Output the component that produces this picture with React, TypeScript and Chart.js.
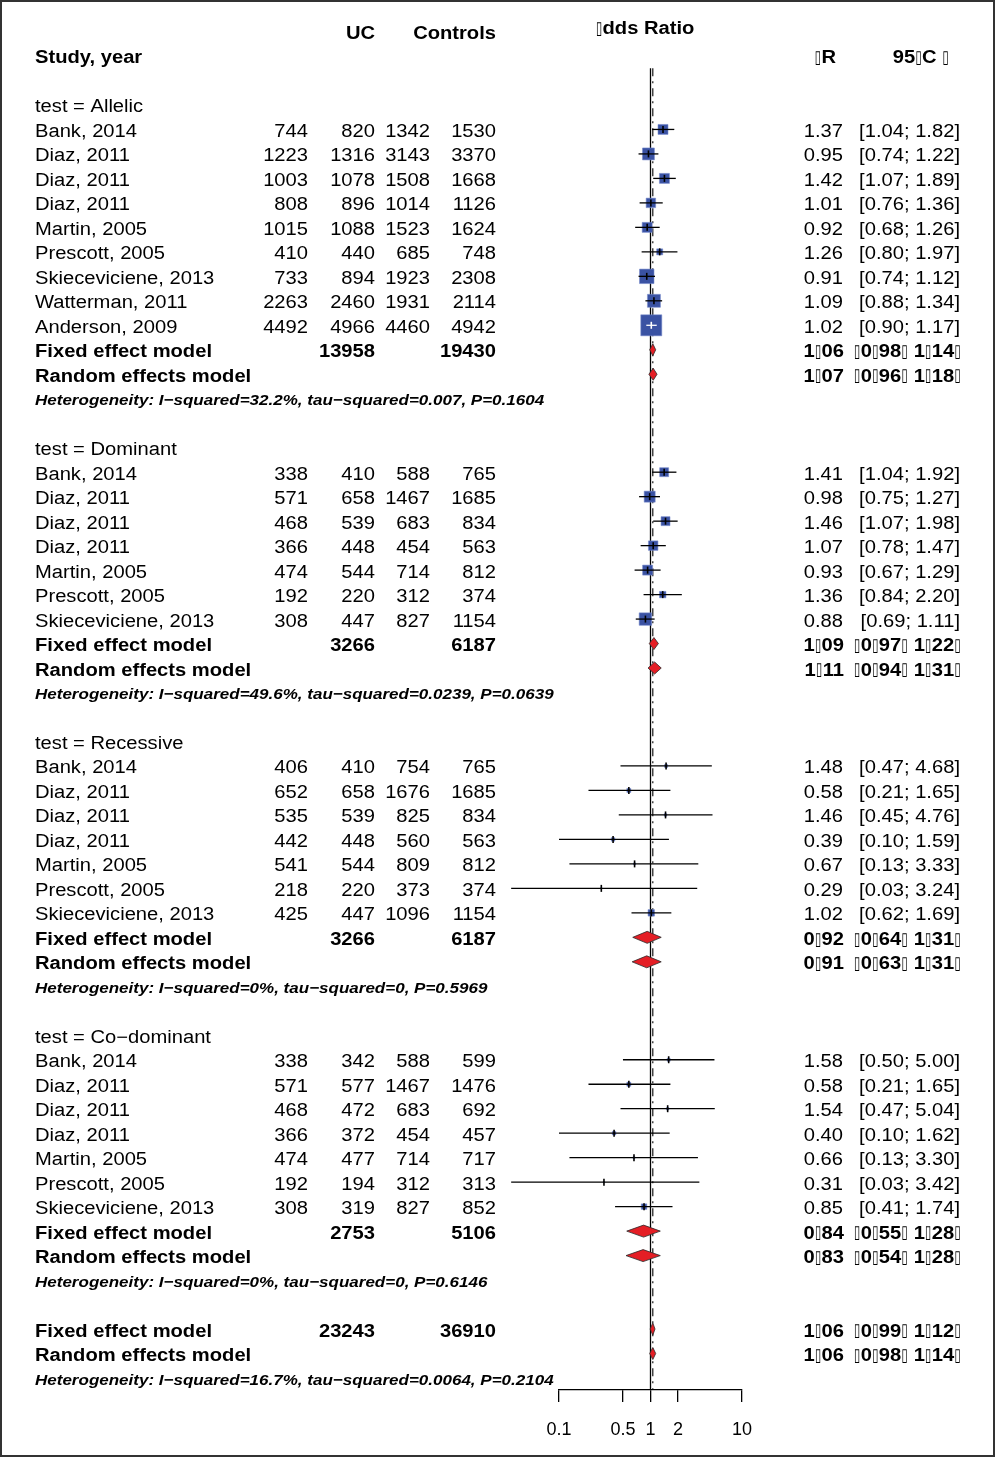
import React, { useEffect, useRef } from "react";
import { Chart, registerables } from "chart.js";

Chart.register(...registerables);

// ---------------- data ----------------
const groups = ["Allelic", "Dominant", "Recessive", "Co\u2212dominant"];

const studyNames = [
  ["Bank, 2014", "Diaz, 2011", "Diaz, 2011", "Diaz, 2011", "Martin, 2005", "Prescott, 2005", "Skieceviciene, 2013", "Watterman, 2011", "Anderson, 2009"],
  ["Bank, 2014", "Diaz, 2011", "Diaz, 2011", "Diaz, 2011", "Martin, 2005", "Prescott, 2005", "Skieceviciene, 2013"],
  ["Bank, 2014", "Diaz, 2011", "Diaz, 2011", "Diaz, 2011", "Martin, 2005", "Prescott, 2005", "Skieceviciene, 2013"],
  ["Bank, 2014", "Diaz, 2011", "Diaz, 2011", "Diaz, 2011", "Martin, 2005", "Prescott, 2005", "Skieceviciene, 2013"],
];

const ucEvents = [
  [744, 1223, 1003, 808, 1015, 410, 733, 2263, 4492],
  [338, 571, 468, 366, 474, 192, 308],
  [406, 652, 535, 442, 541, 218, 425],
  [338, 571, 468, 366, 474, 192, 308],
];
const ucTotal = [
  [820, 1316, 1078, 896, 1088, 440, 894, 2460, 4966],
  [410, 658, 539, 448, 544, 220, 447],
  [410, 658, 539, 448, 544, 220, 447],
  [342, 577, 472, 372, 477, 194, 319],
];
const ctrlEvents = [
  [1342, 3143, 1508, 1014, 1523, 685, 1923, 1931, 4460],
  [588, 1467, 683, 454, 714, 312, 827],
  [754, 1676, 825, 560, 809, 373, 1096],
  [588, 1467, 683, 454, 714, 312, 827],
];
const ctrlTotal = [
  [1530, 3370, 1668, 1126, 1624, 748, 2308, 2114, 4942],
  [765, 1685, 834, 563, 812, 374, 1154],
  [765, 1685, 834, 563, 812, 374, 1154],
  [599, 1476, 692, 457, 717, 313, 852],
];
const oddsRatio = [
  [1.37, 0.95, 1.42, 1.01, 0.92, 1.26, 0.91, 1.09, 1.02],
  [1.41, 0.98, 1.46, 1.07, 0.93, 1.36, 0.88],
  [1.48, 0.58, 1.46, 0.39, 0.67, 0.29, 1.02],
  [1.58, 0.58, 1.54, 0.4, 0.66, 0.31, 0.85],
];
const ciLower = [
  [1.04, 0.74, 1.07, 0.76, 0.68, 0.8, 0.74, 0.88, 0.9],
  [1.04, 0.75, 1.07, 0.78, 0.67, 0.84, 0.69],
  [0.47, 0.21, 0.45, 0.1, 0.13, 0.03, 0.62],
  [0.5, 0.21, 0.47, 0.1, 0.13, 0.03, 0.41],
];
const ciUpper = [
  [1.82, 1.22, 1.89, 1.36, 1.26, 1.97, 1.12, 1.34, 1.17],
  [1.92, 1.27, 1.98, 1.47, 1.29, 2.2, 1.11],
  [4.68, 1.65, 4.76, 1.59, 3.33, 3.24, 1.69],
  [5.0, 1.65, 5.04, 1.62, 3.3, 3.42, 1.74],
];
// relative study weights (%), estimated from the square sizes
const weights = [
  [7.2, 10.3, 7.2, 6.5, 7.2, 2.6, 15.1, 12.1, 31.7],
  [5.8, 8.7, 5.8, 6.5, 7.2, 3.0, 11.2],
  [0.65, 1.15, 0.45, 0.88, 0.29, 0.16, 3.0],
  [0.65, 1.15, 0.45, 0.88, 0.29, 0.16, 2.2],
];

const fixedOR = [1.06, 1.09, 0.92, 0.84];
const fixedLo = [0.98, 0.97, 0.64, 0.55];
const fixedHi = [1.14, 1.22, 1.31, 1.28];
const randomOR = [1.07, 1.11, 0.91, 0.83];
const randomLo = [0.96, 0.94, 0.63, 0.54];
const randomHi = [1.18, 1.31, 1.31, 1.28];
const groupTotalUC = [13958, 3266, 3266, 2753];
const groupTotalCtrl = [19430, 6187, 6187, 5106];
const hetI2 = ["32.2%", "49.6%", "0%", "0%"];
const hetTau2 = ["0.007", "0.0239", "0", "0"];
const hetP = ["0.1604", "0.0639", "0.5969", "0.6146"];

const overallFixed = [1.06, 0.99, 1.12];
const overallRandom = [1.06, 0.98, 1.14];
const overallTotals = [23243, 36910];
const overallHet = ["16.7%", "0.0064", "0.2104"];

const xTicks = [0.1, 0.5, 1, 2, 10];

// ---------------- layout / style ----------------
const W = 995;
const H = 1457;
const COL = { label: 35, ucE: 308, ucN: 375, cE: 430, cN: 496, or: 843, ci: 960 };
const FONT_MAIN = 18;
const FONT_HET = 15.2;
const SX = 1.12;
const TEXT_DY = 2.5;
const TOFU = "\u25AF";
const TOFU_ADV = 0.34; // em advance of a missing-glyph box
const SQUARE_K = 3.73; // px per sqrt(weight)
const DIAMOND_HALF = 0.245; // rows
const REF_TOP = 0.5;

type Align = "left" | "right" | "center";
type TextItem = { row: number; x: number; align: Align; text: string; bold?: boolean; italic?: boolean; size?: number };
type StudyRow = { row: number; or: number; lo: number; hi: number; w: number };
type Summary = { row: number; est: number; lo: number; hi: number };

const tofuize = (s: string) => s.replace(/[.\[\];]/g, TOFU);
const ciText = (lo: number, hi: number) => `[${lo.toFixed(2)}; ${hi.toFixed(2)}]`;

function buildRows() {
  const texts: TextItem[] = [];
  const studies: StudyRow[] = [];
  const summaries: Summary[] = [];
  texts.push({ row: -1.2, x: 645, align: "center", text: TOFU + "dds Ratio", bold: true });
  texts.push({ row: -1, x: COL.ucN, align: "right", text: "UC", bold: true });
  texts.push({ row: -1, x: COL.cN, align: "right", text: "Controls", bold: true });
  texts.push({ row: 0, x: COL.label, align: "left", text: "Study, year", bold: true });
  texts.push({ row: 0, x: 836, align: "right", text: TOFU + "R", bold: true });
  texts.push({ row: 0, x: 949, align: "right", text: "95" + TOFU + "C " + TOFU, bold: true });

  const summaryRow = (row: number, label: string, est: number, lo: number, hi: number, nU?: number, nC?: number) => {
    texts.push({ row, x: COL.label, align: "left", text: label, bold: true });
    if (nU !== undefined) texts.push({ row, x: COL.ucN, align: "right", text: String(nU), bold: true });
    if (nC !== undefined) texts.push({ row, x: COL.cN, align: "right", text: String(nC), bold: true });
    texts.push({ row, x: COL.or + 1, align: "right", text: tofuize(est.toFixed(2)), bold: true });
    texts.push({ row, x: COL.ci + 1, align: "right", text: tofuize(ciText(lo, hi)), bold: true });
    summaries.push({ row, est, lo, hi });
  };
  const hetRow = (row: number, i2: string, t2: string, p: string) => {
    texts.push({
      row, x: COL.label, align: "left", bold: true, italic: true, size: FONT_HET,
      text: `Heterogeneity: I\u2212squared=${i2}, tau\u2212squared=${t2}, P=${p}`,
    });
  };

  let row = 2;
  groups.forEach((g, gi) => {
    texts.push({ row, x: COL.label, align: "left", text: `test = ${g}` });
    row++;
    studyNames[gi].forEach((name, si) => {
      texts.push({ row, x: COL.label, align: "left", text: name });
      texts.push({ row, x: COL.ucE, align: "right", text: String(ucEvents[gi][si]) });
      texts.push({ row, x: COL.ucN, align: "right", text: String(ucTotal[gi][si]) });
      texts.push({ row, x: COL.cE, align: "right", text: String(ctrlEvents[gi][si]) });
      texts.push({ row, x: COL.cN, align: "right", text: String(ctrlTotal[gi][si]) });
      texts.push({ row, x: COL.or, align: "right", text: oddsRatio[gi][si].toFixed(2) });
      texts.push({ row, x: COL.ci, align: "right", text: ciText(ciLower[gi][si], ciUpper[gi][si]) });
      studies.push({ row, or: oddsRatio[gi][si], lo: ciLower[gi][si], hi: ciUpper[gi][si], w: weights[gi][si] });
      row++;
    });
    summaryRow(row, "Fixed effect model", fixedOR[gi], fixedLo[gi], fixedHi[gi], groupTotalUC[gi], groupTotalCtrl[gi]);
    row++;
    summaryRow(row, "Random effects model", randomOR[gi], randomLo[gi], randomHi[gi]);
    row++;
    hetRow(row, hetI2[gi], hetTau2[gi], hetP[gi]);
    row += 2;
  });
  summaryRow(row, "Fixed effect model", overallFixed[0], overallFixed[1], overallFixed[2], overallTotals[0], overallTotals[1]);
  row++;
  summaryRow(row, "Random effects model", overallRandom[0], overallRandom[1], overallRandom[2]);
  row++;
  hetRow(row, overallHet[0], overallHet[1], overallHet[2]);
  return { texts, studies, summaries, lastRow: row };
}

function drawItem(ctx: CanvasRenderingContext2D, t: TextItem, y: number) {
  const size = t.size ?? FONT_MAIN;
  const base = `${t.italic ? "italic " : ""}${t.bold ? "bold " : ""}${size}px "Liberation Sans", Arial, sans-serif`;
  const tofuFont = `${size}px "DejaVu Sans"`;
  const segs: { s: string; tofu: boolean }[] = [];
  for (const ch of t.text) {
    const isT = ch === TOFU;
    const last = segs[segs.length - 1];
    if (last && last.tofu === isT && !isT) last.s += ch;
    else segs.push({ s: ch, tofu: isT });
  }
  let total = 0;
  const tofuAdv = size * TOFU_ADV;
  const info = segs.map((sg) => {
    ctx.font = sg.tofu ? tofuFont : base;
    const m = ctx.measureText(sg.s).width;
    const w = sg.tofu ? tofuAdv : m;
    total += w;
    return { w, m };
  });
  const sx = SX;
  const x0 = t.align === "left" ? t.x : t.align === "right" ? t.x - total * sx : t.x - (total * sx) / 2;
  ctx.save();
  ctx.translate(x0, y + TEXT_DY);
  ctx.scale(sx, 1);
  ctx.textBaseline = "middle";
  ctx.textAlign = "left";
  ctx.fillStyle = "#000";
  let cx = 0;
  segs.forEach((sg, i) => {
    ctx.font = sg.tofu ? tofuFont : base;
    if (sg.tofu) {
      const k = (info[i].w * 0.95) / info[i].m;
      ctx.save();
      ctx.translate(cx, 0);
      ctx.scale(k, 1);
      ctx.fillText(sg.s, 0, 0);
      ctx.restore();
    } else {
      ctx.fillText(sg.s, cx, 0);
    }
    cx += info[i].w;
  });
  ctx.restore();
}

export default function App() {
  const ref = useRef<HTMLCanvasElement | null>(null);

  useEffect(() => {
    document.body.style.margin = "0";
    const canvas = ref.current;
    if (!canvas) return;
    const { texts, studies, summaries, lastRow } = buildRows();
    const yMax = lastRow + 0.49;
    const sizePx = (w: number) => SQUARE_K * Math.sqrt(w);

    const insideColor = (chart: any, s: StudyRow) => {
      const xs = chart.scales.x;
      if (!xs) return "#000";
      const wpx = xs.getPixelForValue(s.hi) - xs.getPixelForValue(s.lo);
      return wpx < sizePx(s.w) ? "#ffffff" : "#000000";
    };

    const datasets: any[] = [];
    // reference lines
    datasets.push({
      type: "scatter", showLine: true, order: 5, pointRadius: 0, borderColor: "#000", borderWidth: 1.3, clip: false,
      data: [{ x: 1, y: REF_TOP }, { x: 1, y: yMax }],
    });
    datasets.push({
      type: "scatter", showLine: true, order: 5, pointRadius: 0, borderColor: "#000", borderWidth: 1.1, clip: false,
      borderDash: [8, 5, 2, 5],
      data: [{ x: overallFixed[0], y: REF_TOP }, { x: overallFixed[0], y: yMax }],
    });
    // squares
    datasets.push({
      type: "scatter", order: 4, clip: false, pointStyle: "rect",
      data: studies.map((s) => ({ x: s.or, y: s.row })),
      pointRadius: (c: any) => sizePx(studies[c.dataIndex]?.w ?? 1) / Math.SQRT2,
      pointHoverRadius: (c: any) => sizePx(studies[c.dataIndex]?.w ?? 1) / Math.SQRT2,
      backgroundColor: "#3a52a3", borderColor: "rgba(120,140,205,0.7)", borderWidth: 0.8,
    });
    // confidence intervals
    studies.forEach((s) => {
      datasets.push({
        type: "scatter", showLine: true, order: 2, pointRadius: 0, clip: false, borderWidth: 1.3,
        borderColor: (c: any) => insideColor(c.chart, s),
        data: [{ x: s.lo, y: s.row }, { x: s.hi, y: s.row }],
      });
    });
    // point-estimate ticks
    datasets.push({
      type: "scatter", order: 1, clip: false, pointStyle: "line", rotation: 90, pointRadius: 3.5, pointHoverRadius: 3.5,
      borderWidth: 1.6,
      borderColor: (c: any) => (studies[c.dataIndex] ? insideColor(c.chart, studies[c.dataIndex]) : "#000"),
      data: studies.map((s) => ({ x: s.or, y: s.row })),
    });
    // diamonds
    summaries.forEach((d) => {
      datasets.push({
        type: "scatter", showLine: true, order: 1, pointRadius: 0, clip: false,
        borderColor: "#2a2a2a", borderWidth: 0.8, backgroundColor: "#e41e25", fill: "shape",
        data: [
          { x: d.lo, y: d.row },
          { x: d.est, y: d.row - DIAMOND_HALF },
          { x: d.hi, y: d.row },
          { x: d.est, y: d.row + DIAMOND_HALF },
          { x: d.lo, y: d.row },
        ],
      });
    });

    const textPlugin = {
      id: "forestText",
      afterDraw(chart: any) {
        const ctx: CanvasRenderingContext2D = chart.ctx;
        const ys = chart.scales.y;
        texts.forEach((t) => drawItem(ctx, t, ys.getPixelForValue(t.row)));
        ctx.save();
        ctx.strokeStyle = "#333";
        ctx.lineWidth = 2;
        ctx.strokeRect(1, 1, W - 2, H - 2);
        ctx.restore();
      },
    };

    const chart = new Chart(canvas, {
      type: "scatter",
      data: { datasets },
      plugins: [textPlugin],
      options: {
        animation: false,
        responsive: false,
        maintainAspectRatio: false,
        events: [],
        layout: { padding: { left: 559, right: W - 742, top: 56, bottom: 0 } },
        plugins: { legend: { display: false }, tooltip: { enabled: false } },
        scales: {
          x: {
            type: "logarithmic",
            min: 0.1,
            max: 10,
            position: "bottom",
            afterBuildTicks: (axis: any) => {
              axis.ticks = xTicks.map((v) => ({ value: v }));
            },
            afterFit: (axis: any) => {
              axis.height = 67;
            },
            grid: { drawOnChartArea: false, drawTicks: true, tickLength: 12, color: "#000", lineWidth: 1.3 },
            border: { display: true, color: "#000", width: 1.3 },
            ticks: {
              autoSkip: false,
              maxRotation: 0,
              padding: 17,
              color: "#000",
              font: { family: '"Liberation Sans", Arial, sans-serif', size: 18 },
              callback: (v: any) => String(v),
            },
          },
          y: { type: "linear", reverse: true, min: 0, max: yMax, display: false },
        },
      } as any,
    });
    return () => chart.destroy();
  }, []);

  return (
    <div style={{ width: W, height: H, position: "relative", background: "#fff" }}>
      <canvas ref={ref} width={W} height={H} style={{ display: "block" }} />
    </div>
  );
}
